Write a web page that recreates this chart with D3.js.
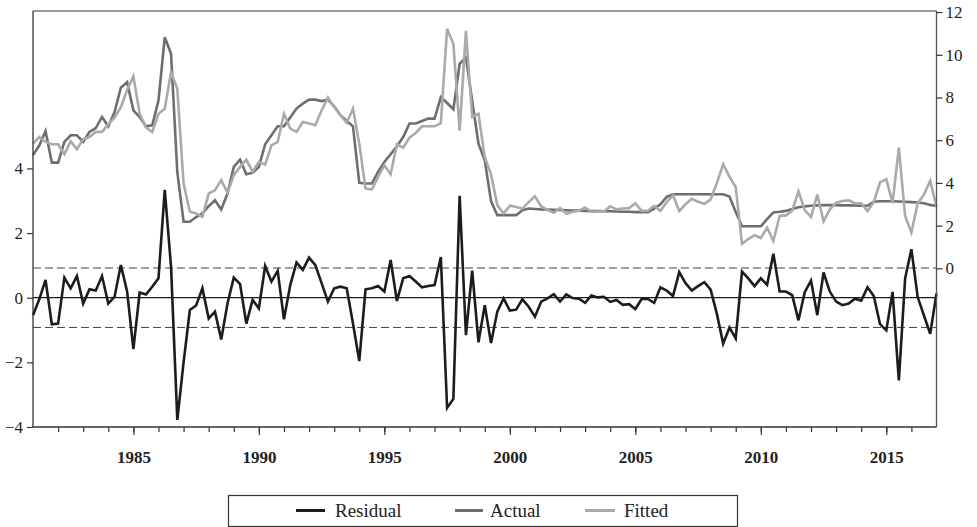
<!DOCTYPE html>
<html>
<head>
<meta charset="utf-8">
<script src="https://cdn.jsdelivr.net/npm/d3@7"></script>
<style>
  html, body { margin: 0; padding: 0; background: #fff; }
  svg { display: block; }
  text { font-family: "Liberation Serif", "Times New Roman", serif; fill: #222; }
</style>
</head>
<body>
<svg id="chart" width="977" height="527"></svg>
<script>
// ---------- data (quarterly, 1981Q1 .. 2017Q1) ----------
const startYear = 1981;
const endYear = 2017;

const residual = [
  -0.54, -0.05, 0.55, -0.82, -0.80, 0.62, 0.29, 0.67, -0.18, 0.26,
  0.22, 0.67, -0.18, 0.03, 1.01, 0.19, -1.59, 0.16, 0.10, 0.34,
  0.60, 3.34, 0.96, -3.78, -2.00, -0.38, -0.24, 0.29, -0.64, -0.43,
  -1.29, -0.18, 0.62, 0.42, -0.80, -0.07, -0.33, 0.98, 0.50, 0.83,
  -0.67, 0.39, 1.09, 0.86, 1.24, 1.01, 0.45, -0.12, 0.29, 0.34,
  0.29, -0.80, -1.96, 0.26, 0.29, 0.36, 0.19, 1.17, -0.10, 0.60,
  0.67, 0.50, 0.32, 0.36, 0.39, 1.26, -3.41, -3.13, 3.15, -1.16,
  0.84, -1.38, -0.23, -1.40, -0.43, -0.02, -0.40, -0.37, -0.05, -0.28,
  -0.59, -0.12, -0.02, 0.11, -0.12, 0.10, -0.01, -0.03, -0.16, 0.07,
  0.01, 0.03, -0.13, -0.07, -0.22, -0.20, -0.35, -0.04, -0.04, -0.16,
  0.32, 0.22, 0.05, 0.79, 0.45, 0.22, 0.36, 0.48, 0.25, -0.50,
  -1.42, -0.92, -1.26, 0.81, 0.60, 0.36, 0.60, 0.40, 1.36, 0.19,
  0.19, 0.08, -0.70, 0.17, 0.53, -0.54, 0.78, 0.19, -0.12, -0.23,
  -0.18, -0.03, -0.09, 0.32, 0.05, -0.82, -1.01, 0.18, -2.56, 0.60,
  1.50, 0.02, -0.55, -1.12, 0.13
];

const actual = [
  5.30, 5.75, 6.43, 4.95, 4.95, 5.92, 6.23, 6.23, 5.92, 6.39,
  6.57, 7.09, 6.65, 7.32, 8.46, 8.72, 7.40, 7.08, 6.65, 6.70,
  7.86, 10.82, 10.05, 4.50, 2.18, 2.18, 2.40, 2.57, 2.91, 3.19,
  2.76, 3.50, 4.75, 5.09, 4.41, 4.47, 4.75, 5.81, 6.23, 6.65,
  6.65, 7.06, 7.48, 7.71, 7.90, 7.90, 7.83, 7.90, 7.59, 7.17,
  6.90, 6.65, 4.00, 3.97, 3.97, 4.52, 4.98, 5.34, 5.72, 6.15,
  6.78, 6.78, 6.90, 7.01, 7.01, 8.02, 7.74, 7.45, 9.58, 9.86,
  7.85, 5.84, 5.06, 3.15, 2.49, 2.49, 2.49, 2.49, 2.72, 2.80,
  2.78, 2.76, 2.75, 2.74, 2.73, 2.72, 2.71, 2.70, 2.69, 2.68,
  2.68, 2.67, 2.67, 2.66, 2.65, 2.65, 2.63, 2.63, 2.63, 2.80,
  3.00, 3.35, 3.47, 3.47, 3.47, 3.47, 3.47, 3.47, 3.47, 3.47,
  3.47, 3.36, 2.64, 1.97, 1.97, 1.97, 1.97, 2.30, 2.62, 2.65,
  2.69, 2.78, 2.86, 2.90, 2.93, 2.95, 2.96, 2.96, 2.96, 2.95,
  2.95, 2.94, 2.93, 2.93, 3.12, 3.14, 3.14, 3.14, 3.13, 3.12,
  3.10, 3.08, 3.05, 2.97, 2.92
];

const fitted = [
  5.84, 6.15, 5.92, 5.81, 5.81, 5.34, 5.95, 5.58, 6.05, 6.15,
  6.39, 6.39, 6.75, 7.05, 7.55, 8.35, 8.99, 7.24, 6.60, 6.38,
  7.24, 7.47, 9.19, 8.41, 3.97, 2.65, 2.57, 2.41, 3.50, 3.66,
  4.13, 3.54, 4.36, 4.75, 5.09, 4.52, 4.98, 4.86, 5.76, 5.92,
  7.24, 6.54, 6.39, 6.85, 6.78, 6.70, 7.40, 7.99, 7.55, 7.17,
  6.81, 7.48, 5.84, 3.74, 3.69, 4.28, 4.83, 4.41, 5.81, 5.65,
  6.12, 6.34, 6.65, 6.65, 6.65, 6.80, 11.22, 10.50, 6.45, 11.12,
  7.10, 7.24, 5.20, 4.40, 2.96, 2.57, 2.93, 2.87, 2.80, 3.10,
  3.37, 2.90, 2.74, 2.60, 2.83, 2.55, 2.65, 2.70, 2.85, 2.65,
  2.66, 2.66, 2.90, 2.76, 2.80, 2.82, 3.05, 2.69, 2.70, 2.92,
  2.69, 3.10, 3.43, 2.68, 3.00, 3.26, 3.12, 3.02, 3.22, 4.00,
  4.87, 4.30, 3.80, 1.15, 1.37, 1.55, 1.42, 1.90, 1.28, 2.45,
  2.48, 2.70, 3.60, 2.73, 2.40, 3.45, 2.20, 2.76, 3.07, 3.15,
  3.18, 3.05, 3.05, 2.68, 3.10, 4.02, 4.18, 3.05, 5.65, 2.45,
  1.68, 3.04, 3.45, 4.10, 2.88
];

const yearLabels = [1985, 1990, 1995, 2000, 2005, 2010, 2015];
const leftTicks = [-4, -2, 0, 2, 4];
const rightTicks = [0, 2, 4, 6, 8, 10, 12];
const residualBand = 0.92;   // +/- 1 S.E. dashed lines
const seriesNames = ["Residual", "Actual", "Fitted"];

// ---------- layout ----------
const svg = d3.select("#chart");
const L = 33, R = 936.5, T = 11, B = 427;
const colors = { Residual: "#1c1c1c", Actual: "#6e6e6e", Fitted: "#aaaaaa" };

const times = residual.map((_, i) => startYear + i / 4);

const x = d3.scaleLinear().domain([startYear, endYear]).range([L, R]);
const yL = d3.scaleLinear().domain([-4, 8.87]).range([B, T]);
const yR = d3.scaleLinear().domain([-7.43, 12.05]).range([B, T]);

// frame
const g = svg.append("g");
g.append("line").attr("x1", L).attr("x2", R).attr("y1", T).attr("y2", T)
  .attr("stroke", "#333").attr("stroke-width", 1.2);

// reference lines
g.append("line").attr("x1", L).attr("x2", R).attr("y1", yL(0)).attr("y2", yL(0))
  .attr("stroke", "#1c1c1c").attr("stroke-width", 1.3);
[residualBand, -residualBand].forEach(v => {
  g.append("line").attr("x1", L).attr("x2", R).attr("y1", yL(v)).attr("y2", yL(v))
    .attr("stroke", "#444").attr("stroke-width", 1).attr("stroke-dasharray", "8,4");
});

// series lines
const lineL = d3.line().x((d, i) => x(times[i])).y(d => yL(d));
const lineR = d3.line().x((d, i) => x(times[i])).y(d => yR(d));

g.append("path").datum(residual).attr("d", lineL)
  .attr("fill", "none").attr("stroke", colors.Residual).attr("stroke-width", 2.6)
  .attr("stroke-linejoin", "miter");
g.append("path").datum(actual).attr("d", lineR)
  .attr("fill", "none").attr("stroke", colors.Actual).attr("stroke-width", 2.6);
g.append("path").datum(fitted).attr("d", lineR)
  .attr("fill", "none").attr("stroke", colors.Fitted).attr("stroke-width", 2.6);

// left axis
const leftAxis = d3.axisLeft(yL).tickValues(leftTicks).tickSize(6).tickPadding(4)
  .tickFormat(d3.format("d"));
const gl = svg.append("g").attr("transform", `translate(${L},0)`).call(leftAxis);
gl.select(".domain").attr("d", `M-0,${T}V${B}`).attr("stroke", "#333").attr("stroke-width", 1.3);

// right axis
const rightAxis = d3.axisRight(yR).tickValues(rightTicks).tickSize(6).tickPadding(3)
  .tickFormat(d3.format("d"));
const gr = svg.append("g").attr("transform", `translate(${R},0)`).call(rightAxis);
gr.select(".domain").attr("d", `M0,${T}V${B}`).attr("stroke", "#555").attr("stroke-width", 1.3);

// bottom axis: minor ticks every year, major at labelled years
const minorYears = d3.range(startYear + 1, endYear);
const bottomMinor = d3.axisBottom(x).tickValues(minorYears).tickSize(5).tickFormat("");
const gbm = svg.append("g").attr("transform", `translate(0,${B})`).call(bottomMinor);
gbm.select(".domain").attr("d", `M${L},0H${R}`).attr("stroke", "#333").attr("stroke-width", 1.3);
const bottomMajor = d3.axisBottom(x).tickValues(yearLabels).tickSize(8).tickPadding(16)
  .tickFormat(d3.format("d"));
const gbM = svg.append("g").attr("transform", `translate(0,${B})`).call(bottomMajor);
gbM.select(".domain").remove();

[gl, gr, gbm, gbM].forEach(a => {
  a.selectAll(".tick line").attr("stroke", "#333").attr("stroke-width", 1.2);
  a.selectAll(".tick text").attr("font-family", '"Liberation Serif", serif')
    .attr("font-size", 17).attr("fill", "#222");
});
gbM.selectAll(".tick text").attr("font-weight", "bold");

// legend
const leg = svg.append("g");
leg.append("rect").attr("x", 228.5).attr("y", 495.5).attr("width", 509).attr("height", 31)
  .attr("fill", "#fff").attr("stroke", "#333").attr("stroke-width", 1.2);
const legendItems = [
  { name: seriesNames[0], x1: 296, x2: 325, tx: 335 },
  { name: seriesNames[1], x1: 455, x2: 483, tx: 490 },
  { name: seriesNames[2], x1: 585, x2: 615, tx: 624 }
];
legendItems.forEach(it => {
  leg.append("line").attr("x1", it.x1).attr("x2", it.x2).attr("y1", 510.5).attr("y2", 510.5)
    .attr("stroke", colors[it.name]).attr("stroke-width", 3);
  leg.append("text").attr("x", it.tx).attr("y", 517).attr("font-size", 19)
    .text(it.name);
});
</script>
</body>
</html>
